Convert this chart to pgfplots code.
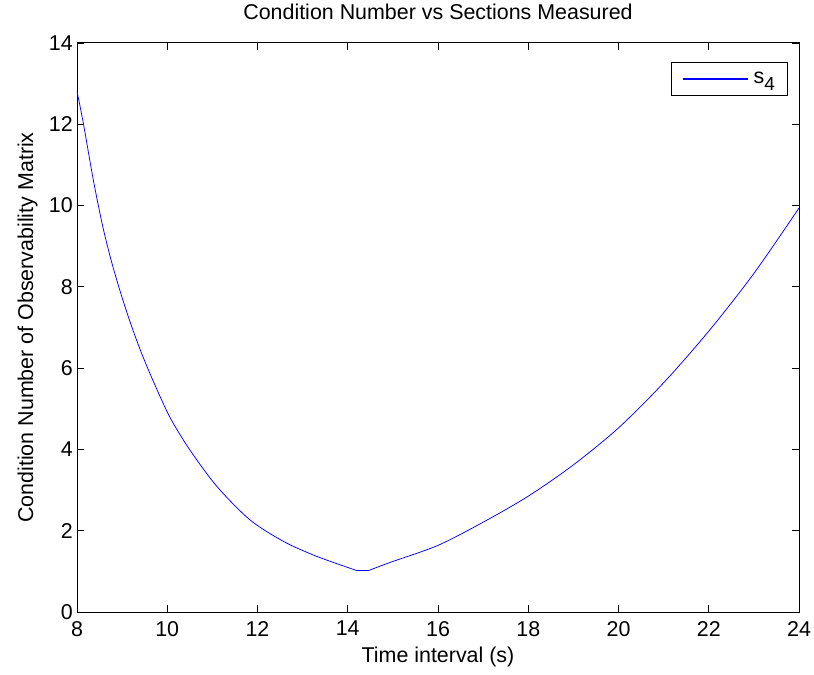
\documentclass[border=0pt]{standalone}
\usepackage{fontspec}
\setmainfont{Liberation Sans}
\usepackage{pgfplots}
\pgfplotsset{compat=1.18}

\begin{document}
\begin{tikzpicture}[font=\fontsize{21.5}{25}\selectfont]
\useasboundingbox (-77bp,-63bp) rectangle (737bp,612bp);
\begin{axis}[
    scale only axis,
    width=722bp, height=569bp,
    xmin=8, xmax=24, ymin=0, ymax=14,
    xtick={8,10,...,24},
    ytick={0,2,...,14},
    tick align=inside,
    major tick length=7bp,
    axis line style={line width=1pt},
    every tick/.style={black, line width=0.8pt},
    /pgf/number format/assume math mode=true,
    xticklabel style={inner sep=0pt, yshift=-9bp},
    yticklabel style={inner sep=0pt, xshift=-4bp},
    title={Condition Number vs Sections Measured},
    xlabel={Time interval (s)},
    ylabel={Condition Number of Observability Matrix},
    title style={at={(axis description cs:0.5,1.0316)}, anchor=base, inner sep=0pt},
    xlabel style={at={(axis description cs:0.5,-0.0896)}, anchor=base, inner sep=0pt},
    ylabel style={at={(axis description cs:-0.0609,0.5)}, anchor=base, rotate=0, inner sep=0pt},
    legend style={at={(0.985,0.967)}, anchor=north east, draw=black,
        line width=0.8pt, inner xsep=11bp, inner ysep=8bp, legend cell align=left},
    legend image code/.code={\fill[blue] (0bp,-0.35pt) rectangle (64bp,0.35pt);},
]
\addplot[blue, line width=0.75pt, smooth, tension=0.5] coordinates {
(8,12.81)(8.14,12.03)(8.36,10.64)(8.57,9.49)(8.77,8.6)(8.99,7.77)
(9.21,7.03)(9.43,6.37)(9.69,5.68)(10.06,4.79)(10.5,3.99)(11.1,3.09)
(11.83,2.27)(12.57,1.74)(13.31,1.37)(14.2,1.02)
};
\addlegendentry{\hspace{4bp}s\raisebox{-7bp}{\fontsize{19}{22}\selectfont 4}}
\addplot[blue, line width=0.75pt, forget plot] coordinates {
(14.2,1.02)(14.46,1.02)
};
\addplot[blue, line width=0.75pt, smooth, tension=0.5, forget plot] coordinates {
(14.46,1.02)(14.94,1.22)(16,1.64)(17,2.21)(18,2.85)(19,3.62)(20,4.53)
(21,5.64)(22,6.91)(23,8.33)(24,9.94)
};
\end{axis}
\end{tikzpicture}
\end{document}
